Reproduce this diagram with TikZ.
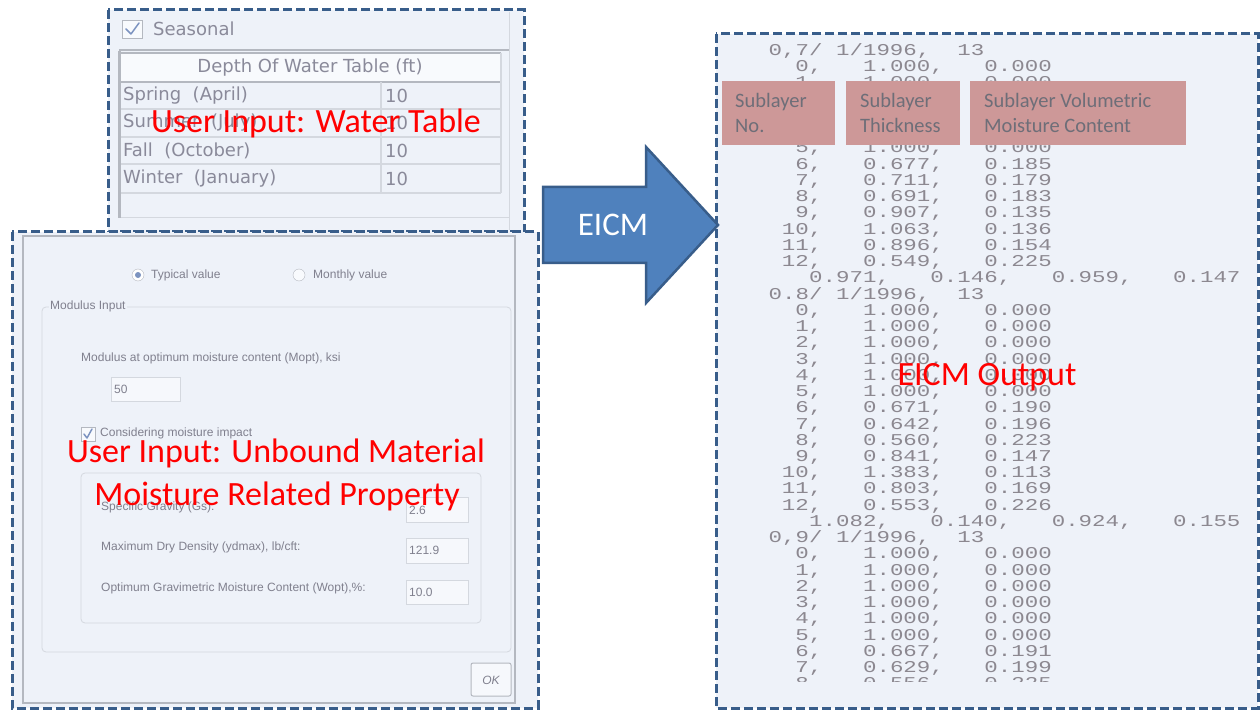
\documentclass[tikz,border=0pt]{standalone}
\usepackage{fontspec}
\newfontfamily\calfont{Carlito}
\newfontfamily\uifont{Liberation Sans}
\newfontfamily\tblfont{DejaVu Sans}
\newfontfamily\outmono[FakeStretch=1.36]{Liberation Mono}
\definecolor{panelbg}{HTML}{EEF2F9}
\definecolor{dashblue}{HTML}{385D8A}
\definecolor{uigray}{HTML}{80808E}
\definecolor{tblgray}{HTML}{8A8A9A}
\definecolor{monogray}{HTML}{8C8890}
\definecolor{pinkfill}{HTML}{CD9898}
\definecolor{pinktext}{HTML}{6E6E78}
\definecolor{arrowblue}{HTML}{4F81BD}
\definecolor{gridline}{HTML}{D4D8DF}
\definecolor{frameline}{HTML}{B4B8C0}
\definecolor{checkblue}{HTML}{7C93C0}
\tikzset{
  panel/.style={draw=dashblue, line width=3pt, dash pattern=on 9pt off 4pt, fill=panelbg},
  redlabel/.style={text=red, font=\calfont\fontsize{34}{40}\selectfont, inner sep=0pt, anchor=base},
  uitext/.style={text=uigray, font=\uifont\fontsize{12}{14}\selectfont, inner sep=0pt, anchor=west},
  tbltext/.style={text=tblgray, font=\tblfont\fontsize{18}{21}\selectfont, inner sep=0pt, anchor=west},
  monotext/.style={text=monogray, font=\outmono\fontsize{16.5}{18}\selectfont, inner sep=0pt},
  fieldbox/.style={draw=gridline, fill=panelbg!50!white, line width=0.8pt},
  groupbox/.style={draw=gridline, line width=0.8pt, rounded corners=4pt},
  pinkbox/.style={fill=pinkfill, draw=none, inner sep=0pt, anchor=north west},
  pinklabel/.style={text=pinktext, font=\calfont\fontsize{20.5}{25}\selectfont, inner sep=0pt, anchor=base west},
  checkbox/.style={draw=frameline, fill=panelbg!40!white, line width=0.8pt},
  checkmark/.style={draw=checkblue, line width=1.5pt, line cap=round, line join=round},
}
\begin{document}
\begin{tikzpicture}[x=1pt,y=-1pt]
\useasboundingbox (0,0) rectangle (1260,711);
\fill[white] (0,0) rectangle (1260,711);

% ---------------- top panel: water table ----------------
\draw[panel] (108,10) rectangle (524,232);
\draw[gridline, line width=1pt] (509,12) -- (509,230);
\draw[checkbox] (122,20) rectangle (142,38);
\draw[checkmark] (126,29) -- (131,34) -- (139,23);
\node[tbltext] (seas) at (153,29) {Seasonal};
\draw[frameline, line width=1.5pt] (119,50) -- (509,50);
\fill[panelbg!40!white] (120,53) rectangle (501,82);
\draw[frameline, line width=1.2pt] (119,53) -- (501,53);
\draw[frameline, line width=2pt] (120,82) -- (501,82);
\foreach \yy in {109,137,164,193} \draw[gridline, line width=1.2pt] (120,\yy) -- (501,\yy);
\draw[gridline, line width=1.2pt] (381,82) -- (381,193);
\draw[gridline, line width=1.2pt] (501,53) -- (501,193);
\draw[gridline, line width=1pt] (119,218) -- (509,218);
\draw[frameline, line width=3pt] (119,51) -- (119,218);
\node[tbltext, anchor=center] (hdr) at (310,68) {Depth Of Water Table (ft)};
\node[tbltext] (r1) at (123,96) {Spring\ \ (April)};
\node[tbltext] (r2) at (123,123) {Summer\ \ (July)};
\node[tbltext] (r3) at (123,151) {Fall\ \ (October)};
\node[tbltext] (r4) at (123,179) {Winter\ \ (January)};
\node[tbltext] (v1) at (385,96) {10};
\node[tbltext] (v2) at (385,123) {10};
\node[tbltext] (v3) at (385,151) {10};
\node[tbltext] (v4) at (385,179) {10};
\node[redlabel] (wt) at (316,133) {User Input: Water Table};

% ---------------- bottom panel: material ----------------
\draw[panel] (12,232) rectangle (538,708);
\draw[frameline, line width=1.2pt] (23,236) rectangle (515,703);
\draw[frameline, fill=white] (138,275) circle (6);
\fill[checkblue] (138,275) circle (3);
\node[uitext] (typ) at (151,275) {Typical value};
\draw[frameline, fill=panelbg!40!white] (299,275) circle (6);
\node[uitext] (mon) at (313,275) {Monthly value};
\draw[groupbox] (42,307) rectangle (511,652);
\node[uitext, fill=panelbg, inner sep=1pt] (modin) at (49,306) {Modulus Input};
\node[uitext] (mopt) at (81,358) {Modulus at optimum moisture content (Mopt), ksi};
\draw[fieldbox] (111,377) rectangle (180,401);
\node[uitext] (v50) at (114,389) {50};
\draw[checkbox] (81,427) rectangle (95,441);
\draw[checkmark] (84,434) -- (87,438) -- (92,429);
\node[uitext] (cons) at (100,433) {Considering moisture impact};
\draw[groupbox] (81,473) rectangle (481,623);
\node[uitext] (gs) at (101,507) {Specific Gravity (Gs):};
\node[uitext] (ydm) at (101,547) {Maximum Dry Density (ydmax), lb/cft:};
\node[uitext] (wop) at (101,588) {Optimum Gravimetric Moisture Content (Wopt),\%:};
\draw[fieldbox] (406,497) rectangle (468,522);
\draw[fieldbox] (406,538) rectangle (468,563);
\draw[fieldbox] (406,580) rectangle (468,604);
\node[uitext] (vgs) at (409,510) {2.6};
\node[uitext] (vydm) at (409,550) {121.9};
\node[uitext] (vwop) at (409,592) {10.0};
\draw[frameline, fill=panelbg!50!white, rounded corners=2pt, line width=1pt] (471,663) rectangle (511,696);
\node[uitext, anchor=center, font=\uifont\itshape\fontsize{12}{14}\selectfont] (ok) at (491,680) {OK};
\node[redlabel] (um1) at (276,462) {User Input: Unbound Material};
\node[redlabel] (um2) at (277,505) {Moisture Related Property};

% ---------------- right panel: output ----------------
\draw[panel] (716,34) rectangle (1258,708);
\begin{scope}
\clip (718,37) rectangle (1256,681);
\def\xz{768.5}
\def\cw{13.48}
\node[monotext, anchor=base west] (h0a) at ({\xz}, {55.5+16.24*0}) {0,7/};
\node[monotext, anchor=base west] (h0b) at ({\xz+5*\cw}, {55.5+16.24*0}) {1/1996,};
\node[monotext, anchor=base west] (h0c) at ({\xz+14*\cw}, {55.5+16.24*0}) {13};
\node[monotext, anchor=base west] (h1a) at ({\xz}, {55.5+16.24*15}) {0.8/};
\node[monotext, anchor=base west] (h1b) at ({\xz+5*\cw}, {55.5+16.24*15}) {1/1996,};
\node[monotext, anchor=base west] (h1c) at ({\xz+14*\cw}, {55.5+16.24*15}) {13};
\node[monotext, anchor=base west] (h2a) at ({\xz}, {55.5+16.24*30}) {0,9/};
\node[monotext, anchor=base west] (h2b) at ({\xz+5*\cw}, {55.5+16.24*30}) {1/1996,};
\node[monotext, anchor=base west] (h2c) at ({\xz+14*\cw}, {55.5+16.24*30}) {13};
\foreach \i/\n/\a/\b in {1/0/1.000/0.000, 2/1/1.000/0.000, 3/2/1.000/0.000, 4/3/1.000/0.000,
  5/4/1.000/0.000, 6/5/1.000/0.000, 7/6/0.677/0.185, 8/7/0.711/0.179, 9/8/0.691/0.183,
  10/9/0.907/0.135, 11/10/1.063/0.136, 12/11/0.896/0.154, 13/12/0.549/0.225,
  16/0/1.000/0.000, 17/1/1.000/0.000, 18/2/1.000/0.000, 19/3/1.000/0.000, 20/4/1.000/0.000,
  21/5/1.000/0.000, 22/6/0.671/0.190, 23/7/0.642/0.196, 24/8/0.560/0.223, 25/9/0.841/0.147,
  26/10/1.383/0.113, 27/11/0.803/0.169, 28/12/0.553/0.226,
  31/0/1.000/0.000, 32/1/1.000/0.000, 33/2/1.000/0.000, 34/3/1.000/0.000, 35/4/1.000/0.000,
  36/5/1.000/0.000, 37/6/0.667/0.191, 38/7/0.629/0.199, 39/8/0.556/0.225}{
  \node[monotext, anchor=base east] (n\i) at ({\xz+4*\cw}, {55.5+16.24*\i}) {\n,};
  \node[monotext, anchor=base west] (a\i) at ({\xz+7*\cw}, {55.5+16.24*\i}) {\a,};
  \node[monotext, anchor=base west] (b\i) at ({\xz+16*\cw}, {55.5+16.24*\i}) {\b};
}
\foreach \i/\p/\q/\r/\s in {14/0.971/0.146/0.959/0.147, 29/1.082/0.140/0.924/0.155}{
  \node[monotext, anchor=base west] (s\i a) at ({\xz+3*\cw}, {55.5+16.24*\i}) {\p,};
  \node[monotext, anchor=base west] (s\i b) at ({\xz+12*\cw}, {55.5+16.24*\i}) {\q,};
  \node[monotext, anchor=base west] (s\i c) at ({\xz+21*\cw}, {55.5+16.24*\i}) {\r,};
  \node[monotext, anchor=base west] (s\i d) at ({\xz+30*\cw}, {55.5+16.24*\i}) {\s};
}
\end{scope}
\node[pinkbox, minimum width=113pt, minimum height=64pt] (p1) at (722,81) {};
\node[pinkbox, minimum width=114pt, minimum height=64pt] (p2) at (846,81) {};
\node[pinkbox, minimum width=216pt, minimum height=64pt] (p3) at (970,81) {};
\node[pinklabel] (p1a) at (735,108) {Sublayer};
\node[pinklabel] (p1b) at (735,133) {No.};
\node[pinklabel] (p2a) at (860,108) {Sublayer};
\node[pinklabel] (p2b) at (860,133) {Thickness};
\node[pinklabel] (p3a) at (984,108) {Sublayer Volumetric};
\node[pinklabel] (p3b) at (984,133) {Moisture Content};
\node[redlabel] (out) at (987,385) {EICM Output};

% ---------------- arrow ----------------
\draw[fill=arrowblue, draw=dashblue, line width=2.5pt, line join=miter]
  (543,187) -- (646,187) -- (646,147) -- (718,225) -- (646,303) -- (646,263) -- (543,263) -- cycle;
\node[text=white, font=\calfont\fontsize{33}{40}\selectfont, inner sep=0pt, anchor=base] (eicm) at (613,236) {EICM};
\end{tikzpicture}
\end{document}
